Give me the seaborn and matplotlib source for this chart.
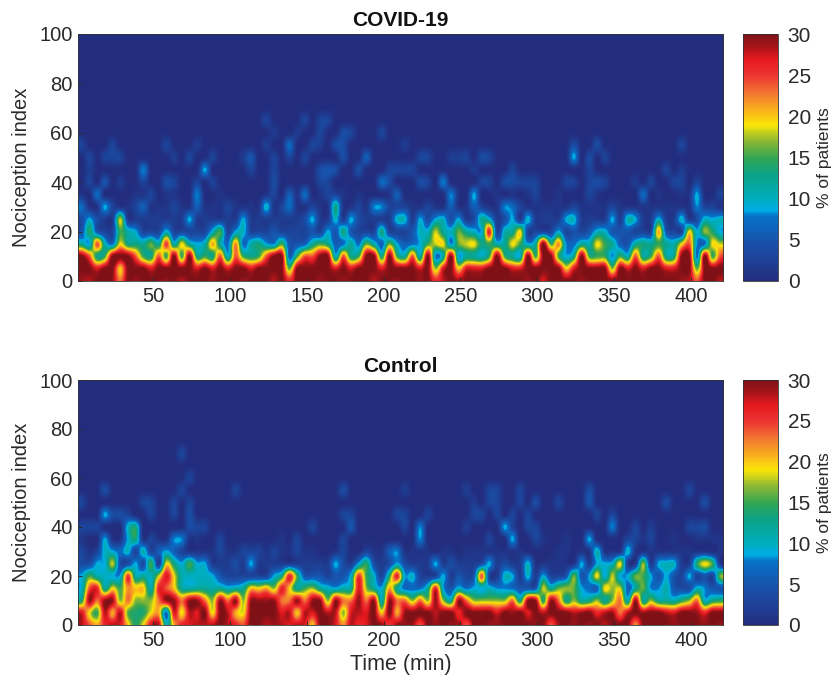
import numpy as np
import pandas as pd
import seaborn as sns
import matplotlib
matplotlib.use("Agg")
import matplotlib.pyplot as plt
from matplotlib.colors import LinearSegmentedColormap

sns.set_theme(style="white")
plt.rcParams['font.family'] = ['Liberation Sans', 'DejaVu Sans']

TITLES = ["COVID-19", "Control"]
X_TICKS = [50, 100, 150, 200, 250, 300, 350, 400]
Y_TICKS = [0, 20, 40, 60, 80, 100]
CBAR_TICKS = [0, 5, 10, 15, 20, 25, 30]
COL_MIN = 5          # minutes per column
IDX_STEP = 5         # index units per row

# ---- COVID-19: % of patients by time column, at index 0,5,...,35
cov_r0 = [29,28,30,30,29,23,30,29,30,30,30,29,30,28,30,30,30,29,30,30,30,29,30,30,30,28,30,26,30,30,30,29,30,30,29,30,30,30,28,30,30,29,
          30,30,29,30,26,28,30,29,30,30,30,30,30,30,30,30,29,30,27,30,30,30,30,29,30,30,30,30,30,30,30,30,30,30,30,30,29,28,24,30,30,28][:84]
cov_r5 = [30,30,27,30,30,20,30,30,30,27,30,30,30,30,30,27,30,27,30,27,30,30,27,30,30,30,30,16,30,30,30,30,30,27,30,27,30,30,30,27,30,30,
          30,30,27,30,17,27,30,20,27,27,27,30,30,30,27,27,30,30,30,30,30,20,27,30,30,30,30,17,30,27,30,27,30,30,27,27,30,30,16,30,30,30]
cov_r10 = [30,24,13,15,30,30,30,24,15,13,24,15,30,15,30,13,15,13,24,10,24,15,13,15,24,30,30,6,15,24,24,30,30,10,24,13,15,30,30,13,30,15,
           12,24,11,30,8,12,30,9,12,12,10,15,30,15,12,10,30,15,30,30,15,9,13,30,15,15,15,8,15,11,24,12,15,24,12,13,30,30,7,30,15,24]
cov_r15 = [12,9,24,11,7,19,13,13,12,16,12,25,11,19,12,9,11,21,12,7,22,7,11,13,9,8,15,5,5,6,12,15,13,6,7,12,7,16,11,6,16,9,
           6,7,9,15,18,19,8,16,18,19,13,15,11,12,19,15,9,12,30,15,22,8,7,12,11,19,15,12,6,5,12,13,12,15,12,11,19,24,8,7,19,18]
cov_r20 = [5,14,5,3,3,15,11,9,3,3,3,10,3,3,3,3,3,10,15,3,9,10,3,3,3,5,3,3,3,3,5,3,9,5,13,5,3,3,3,13,3,3,
           3,5,10,10,18,12,10,16,12,10,9,26,3,11,12,19,3,3,3,3,9,3,5,3,5,10,10,5,5,5,3,3,3,21,5,3,3,19,9,17,14,9]
cov_r25 = [4,9,4,2,2,18,2,2,2,2,2,2,2,2,9,2,2,2,2,2,2,9,2,2,2,2,2,2,2,4,9,2,2,10,2,9,4,2,2,2,2,10,
           10,2,9,4,9,10,4,9,2,4,12,10,2,4,9,2,10,2,2,2,2,9,10,2,2,2,2,9,2,11,9,2,2,10,2,2,10,2,4,10,9,10]
cov_r30 = [7,1,1,9,3,1,1,3,6,1,1,1,3,1,1,6,1,1,1,3,1,1,1,1,10,1,3,7,1,1,3,1,1,13,1,1,3,1,8,8,3,3,
           3,1,1,3,1,1,6,1,1,6,3,1,1,8,7,3,1,1,1,1,1,1,3,1,1,1,1,3,1,1,1,1,1,1,1,1,1,1,8,3,3,1]
cov_r35 = [1,0,7,0,0,0,0,1,1,3,0,1,1,0,0,8,0,0,1,0,0,0,0,0,1,3,0,6,1,7,0,1,3,3,1,0,1,0,0,0,1,6,
           0,0,0,0,0,0,8,1,0,9,0,0,1,0,1,0,1,3,0,0,1,0,0,0,3,1,0,0,0,0,0,7,0,1,0,0,1,1,9,0,0,3]
# isolated cells above index 35
cov_hi_col = [1,3,5,8,11,12,15,17,25,31,32,39,40,44,45,47,52,53,55,56,57,58,59,63,64,66,67,68,72,74,77,78,80,
              8,16,1,22,25,31,32,33,36,40,41,42,43,51,56,66,76,78,
              1,3,4,5,12,14,17,21,22,25,27,29,34,37,44,45,48,49,50,52,53,64,66,68,
              0,4,11,15,24,27,30,31,33,34,42,64,67,78,
              25,28,31,34,35,39,29,31,32,24,25,13,2,64]
cov_hi_idx = [40]*33 + [45]*18 + [50]*24 + [55]*14 + [60]*6 + [65]*4 + [70,75,80,90]
cov_hi_val = [3,5,2,3,4,3,3,3,4,3,3,7,4,4,3,8,3,3,4,4,3,3,3,3,3,3,4,3,2,3,3,3,3,
              8,9,2,3,3,4,5,4,4,3,3,3,3,2,3,3,3,2,
              3,3,3,3,2,3,3,2,5,3,3,3,4,6,3,3,2,2,3,4,3,9,4,3,
              3,3,3,2,2,7,3,2,4,4,2,4,4,3,
              2,2,3,4,3,3,3,3,3,3,2,3,3,3][:99]

# ---- Control
ctl_r0 = [28,24,21,26,28,27,20,14,19,27,28,11,21,26,27,28,28,28,30,28,26,24,30,30,28,29,28,27,28,27,20,30,30,27,22,28,26,27,30,29,25,29,
          29,29,24,30,29,30,29,29,24,30,30,29,29,30,30,30,30,29,30,24,29,30,29,30,29,30,28,30,30,30,22,30,30,30,30,29,30,30,30,29,30,29]
ctl_r5 = [27,19,15,28,21,28,16,14,14,19,21,7,27,19,28,27,30,19,30,28,21,19,30,30,30,30,27,28,20,28,27,30,28,28,17,27,28,27,30,20,30,21,
          29,30,30,30,28,30,30,26,30,30,30,30,27,30,29,30,27,30,28,30,30,30,28,29,30,26,28,29,23,28,30,29,30,30,28,27,30,30,29,26,30,30]
ctl_r10 = [14,29,23,29,29,17,23,17,17,17,23,29,29,23,29,29,23,17,29,23,29,17,29,29,29,29,23,23,29,23,29,29,17,29,23,23,29,23,29,11,29,23,
           23,17,23,17,29,17,12,29,23,17,17,17,17,17,23,13,29,29,14,29,23,13,17,12,13,17,12,17,23,11,29,12,17,12,12,11,14,17,23,10,13,14]
ctl_r15 = [10,24,26,12,19,15,22,20,20,11,26,24,20,12,11,12,12,11,12,10,11,12,20,19,21,17,26,20,12,15,17,12,10,9,11,12,27,17,12,9,21,12,
           7,7,7,12,26,9,5,10,7,9,9,10,8,8,7,5,5,5,18,12,16,17,16,9,7,6,19,17,18,6,12,16,8,8,11,5,4,4,10,8,5,5]
ctl_r20 = [9,15,11,10,9,9,25,11,12,10,18,27,19,11,10,10,10,9,5,3,3,3,3,3,3,9,13,26,15,5,5,5,3,5,5,10,25,15,10,3,14,26,
           9,10,3,2,3,9,2,5,3,5,24,3,2,10,9,2,10,2,9,3,3,5,16,5,9,19,9,18,9,9,16,15,9,5,9,5,3,9,3,5,3,16]
ctl_r25 = [4,4,9,9,18,4,4,9,4,15,2,19,13,9,15,9,9,2,2,2,4,2,9,2,2,2,2,2,2,2,2,2,2,9,4,2,9,14,4,2,4,9,
           4,2,2,2,9,2,4,2,2,2,4,9,2,4,2,2,10,1,1,1,1,1,1,9,2,9,9,10,19,2,2,17,2,9,10,10,2,2,14,19,15,2]
ctl_r30 = [3,1,3,10,9,7,10,3,11,3,6,9,6,3,1,1,1,1,3,1,1,3,3,3,1,3,1,1,3,1,1,0,0,1,3,0,0,3,1,1,6,8,
           1,1,1,1,0,1,1,0,1,1,1,1,1,1,1,1,0,0,0,0,1,1,0,1,1,11,1,1,1,10,1,1,1,1,1,1,1,1,1,1,0,1]
ctl_r35 = [1,0,0,9,1,1,9,13,1,3,1,1,8,8,1,1,0,0,3,0,0,0,0,0,0,0,1,0,3,0,0,0,0,0,3,0,0,0,0,0,0,0,
           0,0,8,0,0,0,0,0,0,0,0,3,0,0,9,0,0,3,1,0,0,1,0,0,9,0,0,0,0,3,3,1,3,0,0,1,0,0,1,1,1,1]
ctl_hi_col = [0,1,2,6,7,15,16,14,30,35,42,44,50,55,56,58,59,69,72,74,79,80,81,
              3,4,5,6,9,12,14,34,35,41,42,45,51,52,54,56,58,67,69,
              0,8,9,12,14,51,53,54,57,59,62,66,76,81,
              3,13,20,34,42,50,53,54,57,66,79,
              14,13]
ctl_hi_idx = [40]*23 + [45]*19 + [50]*14 + [55]*11 + [60,70]
ctl_hi_val = [3,3,3,10,13,3,3,4,3,5,3,8,2,9,3,3,3,8,3,2,3,3,4,
              9,4,4,3,3,3,4,3,3,3,3,3,3,3,3,3,3,3,3,
              3,3,3,3,3,2,3,3,3,4,3,5,4,4,
              4,3,3,4,2,2,3,3,3,4,3,
              3,3]

cmap_stops = [(0.0,(0.14,0.18,0.50)), (5/30,(0.09,0.33,0.68)), (7.8/30,(0.02,0.45,0.78)),
              (8.6/30,(0.0,0.68,0.90)), (10/30,(0.0,0.68,0.74)), (13/30,(0.05,0.64,0.52)),
              (15/30,(0.2,0.65,0.32)), (17/30,(0.55,0.72,0.2)), (19/30,(0.98,0.9,0.03)),
              (20.5/30,(0.98,0.72,0.1)), (23/30,(0.95,0.45,0.2)), (25/30,(0.93,0.2,0.2)),
              (27/30,(0.9,0.1,0.12)), (28.5/30,(0.65,0.08,0.1)), (1.0,(0.5,0.07,0.09))]
cmap = LinearSegmentedColormap.from_list("chart", cmap_stops)

def build(rows, hi_col, hi_idx, hi_val):
    n_col = len(rows[0])
    grid = np.zeros((21, n_col))
    for k, r in enumerate(rows):
        grid[k] = r
    for c, i, v in zip(hi_col, hi_idx, hi_val):
        grid[i // IDX_STEP, c] = v
    return grid

panels = [
    build([cov_r0, cov_r5, cov_r10, cov_r15, cov_r20, cov_r25, cov_r30, cov_r35],
          cov_hi_col, cov_hi_idx, cov_hi_val),
    build([ctl_r0, ctl_r5, ctl_r10, ctl_r15, ctl_r20, ctl_r25, ctl_r30, ctl_r35],
          ctl_hi_col, ctl_hi_idx, ctl_hi_val),
]

W, H = 838, 685
fig = plt.figure(figsize=(W/100, H/100), dpi=100)
boxes = [(34, 281), (380, 625)]
ink = '#2a2a2a'

for n, (grid, title, (top, bot)) in enumerate(zip(panels, TITLES, boxes)):
    ax = fig.add_axes([78/W, 1-bot/H, (723-78)/W, (bot-top)/H])
    cax = fig.add_axes([743/W, 1-bot/H, 35/W, (bot-top)/H])
    df = pd.DataFrame(grid[::-1], index=np.arange(100, -1, -IDX_STEP))
    sns.heatmap(df, ax=ax, cbar_ax=cax, vmin=0, vmax=30, cmap=cmap,
                xticklabels=False, yticklabels=False,
                cbar_kws={'ticks': CBAR_TICKS})
    ax.collections[0].set_visible(False)
    n_col = grid.shape[1]
    ax.imshow(grid[::-1], extent=(0, n_col, 21, 0), aspect='auto',
              interpolation='catrom', cmap=cmap, vmin=0, vmax=30)
    ax.set_xlim(0, n_col)
    ax.set_ylim(20.5, 0.5)
    ax.set_xticks([(t - 1) / COL_MIN for t in X_TICKS])
    ax.set_xticklabels([str(t) for t in X_TICKS])
    ax.set_yticks([(100 - v) / IDX_STEP + 0.5 for v in Y_TICKS])
    ax.set_yticklabels([str(v) for v in Y_TICKS], rotation=0)
    ax.tick_params(axis='both', direction='in', length=3, width=0.7,
                   labelsize=14.5, colors=ink, bottom=True, left=True, pad=4)
    ax.set_ylabel("Nociception index", fontsize=14.5, color=ink, labelpad=6,
                  y=0.46 if n == 0 else 0.5)
    ax.set_title(title, fontsize=15, fontweight='bold', color='#111111', pad=6)
    if n == 1:
        ax.set_xlabel("Time (min)", fontsize=15.5, color=ink, labelpad=3)
    for s in ax.spines.values():
        s.set_visible(True); s.set_linewidth(0.6); s.set_color('#333333')
    cb = ax.collections[0].colorbar
    cb.outline.set_linewidth(0.6); cb.outline.set_edgecolor('#333333')
    cax.tick_params(labelsize=15, colors=ink, length=0, pad=7)
    cb.set_label("% of patients", fontsize=12.5, color=ink, labelpad=4)

fig.savefig("out.png", dpi=100, facecolor='white')
